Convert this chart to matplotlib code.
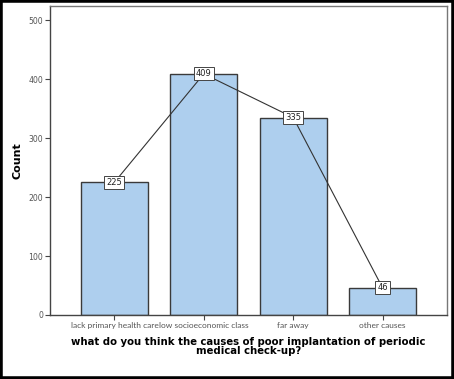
import matplotlib
matplotlib.use("Agg")
import matplotlib.pyplot as plt
from matplotlib.patches import Rectangle

categories = ["lack primary health care", "low socioeconomic class", "far away", "other causes"]
counts = [225, 409, 335, 46]
yticks = [0, 100, 200, 300, 400, 500]

W, H = 454, 379
fig = plt.figure(figsize=(W/100, H/100), dpi=100)
fig.patch.set_facecolor("white")

# outer black border
fig.patches.append(Rectangle((0, 0), 1, 1, transform=fig.transFigure, fill=False,
                             edgecolor="black", linewidth=4, zorder=10))

ax = fig.add_axes([50/W, 1-315/H, (447-50)/W, (315-5.5)/H])
x = list(range(len(categories)))
ax.bar(x, counts, width=0.75, color="#AECFEE", edgecolor="#3a3a3a", linewidth=1.0, zorder=2)
ax.plot(x, counts, color="#333333", linewidth=0.8, zorder=3)
for xi, c in zip(x, counts):
    ax.text(xi, c, str(c), ha="center", va="center", fontsize=6, color="#222222", zorder=4,
            bbox=dict(boxstyle="square,pad=0.25", facecolor="white", edgecolor="#444444", linewidth=0.7))

ax.set_xlim(-0.72, 3.72)
ax.set_ylim(0, 525)
ax.set_yticks(yticks)
ax.set_xticks(x)
ax.set_xticklabels(categories, fontsize=6.05, color="#555555", family="Lato")
ax.set_yticklabels([str(v) for v in yticks], fontsize=5.6, color="#555555")
ax.tick_params(axis="both", direction="out", length=3.5, width=0.8, color="#444444", pad=1.5)
for s in ax.spines.values():
    s.set_color("#777777")
    s.set_linewidth(1.0)
ax.spines["left"].set_color("#444444")
ax.spines["bottom"].set_color("#444444")

ax.set_ylabel("Count", fontsize=8, fontweight="bold", labelpad=4)
ax.set_xlabel("what do you think the causes of poor implantation of periodic\nmedical check-up?",
              fontsize=7.3, fontweight="bold", labelpad=6, linespacing=0.9)

fig.savefig("out.png", dpi=100)
